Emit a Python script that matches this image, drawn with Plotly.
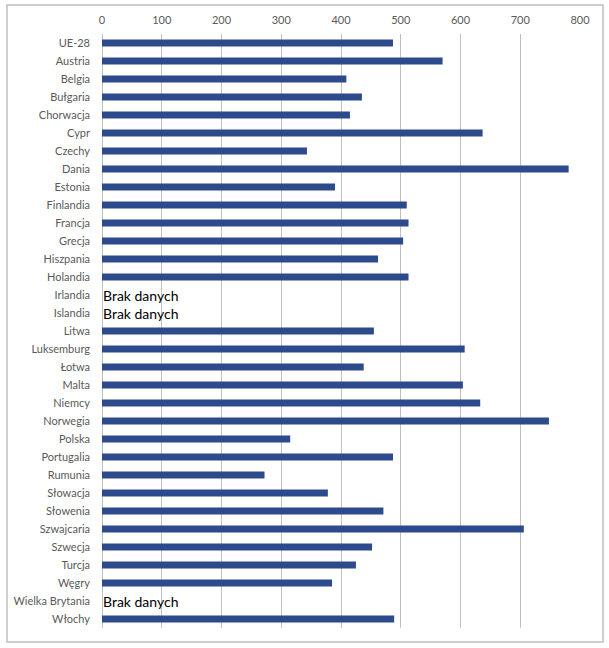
import plotly.graph_objects as go

categories = ["UE-28", "Austria", "Belgia", "Bułgaria", "Chorwacja", "Cypr", "Czechy", "Dania",
              "Estonia", "Finlandia", "Francja", "Grecja", "Hiszpania", "Holandia", "Irlandia",
              "Islandia", "Litwa", "Luksemburg", "Łotwa", "Malta", "Niemcy", "Norwegia", "Polska",
              "Portugalia", "Rumunia", "Słowacja", "Słowenia", "Szwajcaria", "Szwecja", "Turcja",
              "Węgry", "Wielka Brytania", "Włochy"]
values = [487, 570, 409, 435, 415, 637, 343, 781,
          390, 510, 513, 504, 462, 513, None,
          None, 455, 607, 438, 604, 633, 748, 315,
          487, 272, 378, 471, 706, 452, 425,
          385, None, 489]
missing_label = "Brak danych"
x_ticks = [0, 100, 200, 300, 400, 500, 600, 700, 800]

W, H = 609, 648
L, R, T, B = 102, 29, 34, 20
pw, ph = W - L - R, H - T - B

fig = go.Figure(go.Bar(
    y=categories, x=values, orientation="h",
    marker=dict(color="#2D4A8C", line=dict(width=0)),
    width=0.4,
    hoverinfo="x+y",
))

annotations = []
for c, v in zip(categories, values):
    if v is None:
        annotations.append(dict(x=0, y=c, xref="x", yref="y", text=missing_label,
                                showarrow=False, xanchor="left", xshift=-1,
                                font=dict(family="Lato, Carlito, sans-serif", size=14, color="#000000")))

fig.update_layout(
    width=W, height=H,
    margin=dict(l=L, r=R, t=T, b=B),
    paper_bgcolor="white", plot_bgcolor="white",
    showlegend=False,
    annotations=annotations,
    font=dict(family="Lato, Carlito, sans-serif", size=11, color="#595959"),
    xaxis=dict(side="top", range=[0, 800], tickvals=x_ticks, ticks="",
               showgrid=True, gridcolor="#BFBFBF", gridwidth=1,
               zeroline=True, zerolinecolor="#BFBFBF", zerolinewidth=1,
               showline=False, fixedrange=True, ticklabelstandoff=7),
    yaxis=dict(autorange="reversed", categoryorder="array", categoryarray=categories,
               ticks="", showgrid=False, showline=False, fixedrange=True,
               ticklabelstandoff=11),
    shapes=[dict(type="rect", xref="paper", yref="paper",
                 x0=(7 - L) / pw, x1=(603 - L) / pw,
                 y0=(H - B - 642) / ph, y1=1 + (T - 5) / ph,
                 line=dict(color="#BFBFBF", width=1.5), fillcolor="rgba(0,0,0,0)", layer="below")],
)

fig.write_html("out.html", config={"displayModeBar": False},
               post_script="document.body.style.margin='0';document.body.style.overflow='hidden';")
